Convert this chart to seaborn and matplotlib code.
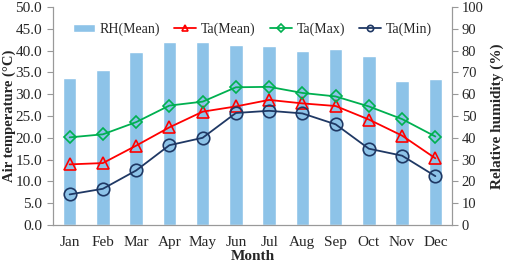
import numpy as np
import pandas as pd
import matplotlib.pyplot as plt
import seaborn as sns

months = ['Jan', 'Feb', 'Mar', 'Apr', 'May', 'Jun', 'Jul', 'Aug', 'Sep', 'Oct', 'Nov', 'Dec']
rh_mean = [67.6, 71.0, 79.4, 84.0, 83.8, 82.8, 82.0, 79.8, 80.8, 77.6, 66.0, 67.2]
ta_mean = [13.9, 14.2, 18.2, 22.4, 26.0, 27.2, 28.7, 27.9, 27.3, 24.2, 20.5, 15.3]
ta_max = [20.1, 20.8, 23.6, 27.4, 28.3, 31.6, 31.7, 30.3, 29.5, 27.2, 24.3, 20.3]
ta_min = [7.0, 8.3, 12.5, 18.3, 20.0, 25.7, 26.2, 25.6, 23.1, 17.5, 15.9, 11.2]

sns.set_style('white')
plt.rcParams['font.family'] = ['Liberation Serif', 'DejaVu Serif']

df = pd.DataFrame({'month': months, 'rh': rh_mean, 'mean': ta_mean, 'max': ta_max, 'min': ta_min})

fig, ax1 = plt.subplots(figsize=(5.05, 2.64), dpi=100)
ax2 = ax1.twinx()
ax1.set_zorder(ax2.get_zorder() + 1)
ax1.patch.set_visible(False)

sns.barplot(data=df, x='month', y='rh', ax=ax2, color='#8DC3E8', saturation=1, width=0.4, label='RH(Mean)')

x = np.arange(len(months))
styles = [('mean', 'Ta(Mean)', '#FF0000', '^', 9),
          ('max', 'Ta(Max)', '#00B050', 'D', 6.5),
          ('min', 'Ta(Min)', '#1F3864', 'o', 9)]
for col, lab, c, m, ms in styles:
    sns.lineplot(x=x, y=df[col], ax=ax1, color=c, marker=m, markersize=ms, markerfacecolor='none',
                 markeredgecolor=c, markeredgewidth=1.2, linewidth=1.3, label=lab, sort=False)

ax1.set_xlim(-0.5, 11.5)
ax1.set_ylim(0, 50)
ax2.set_ylim(0, 100)
ax1.set_yticks(np.arange(0, 50.1, 5))
ax1.set_yticklabels([f'{v:.1f}' for v in np.arange(0, 50.1, 5)], fontsize=11)
ax2.set_yticks(np.arange(0, 101, 10))
ax2.set_yticklabels([str(v) for v in range(0, 101, 10)], fontsize=10.5)
ax1.set_xticks(x)
ax1.set_xticklabels(months, fontsize=11)
ax1.set_xticks(np.arange(-0.5, 12, 1), minor=True)
ax1.tick_params(axis='x', which='major', length=0, pad=8)
ax1.tick_params(axis='x', which='minor', length=4, color='#999999', direction='out')
ax1.tick_params(axis='y', length=4, color='#999999', direction='out', pad=4)
ax2.tick_params(axis='y', length=4, color='#999999', direction='out', pad=3)

ax1.set_xlabel('Month', fontsize=11, fontweight='bold', labelpad=1)
ax1.set_ylabel('Air temperature (\u00b0C)', fontsize=10.5, fontweight='bold')
ax1.yaxis.set_label_coords(-0.093, 0.5)
ax2.set_ylabel('Relative humidity (%)', fontsize=11, fontweight='bold', labelpad=5)

for ax in (ax1, ax2):
    ax.spines['top'].set_visible(False)
    for s in ('left', 'right', 'bottom'):
        ax.spines[s].set_color('#999999')

h1, l1 = ax1.get_legend_handles_labels()
h2, l2 = ax2.get_legend_handles_labels()
if ax2.get_legend():
    ax2.get_legend().remove()
leg = ax1.legend(h2 + h1, l2 + l1, loc='center', bbox_to_anchor=(0.5, 0.9), ncol=4, frameon=False,
                 fontsize=10, handlelength=1.6, handleheight=0.5, handletextpad=0.35, columnspacing=1.0)
for ln in leg.get_lines():
    ln.set_markersize(4.5)

plt.subplots_adjust(left=0.105, right=0.895, top=0.973, bottom=0.148)
plt.savefig('out.png', dpi=100)
